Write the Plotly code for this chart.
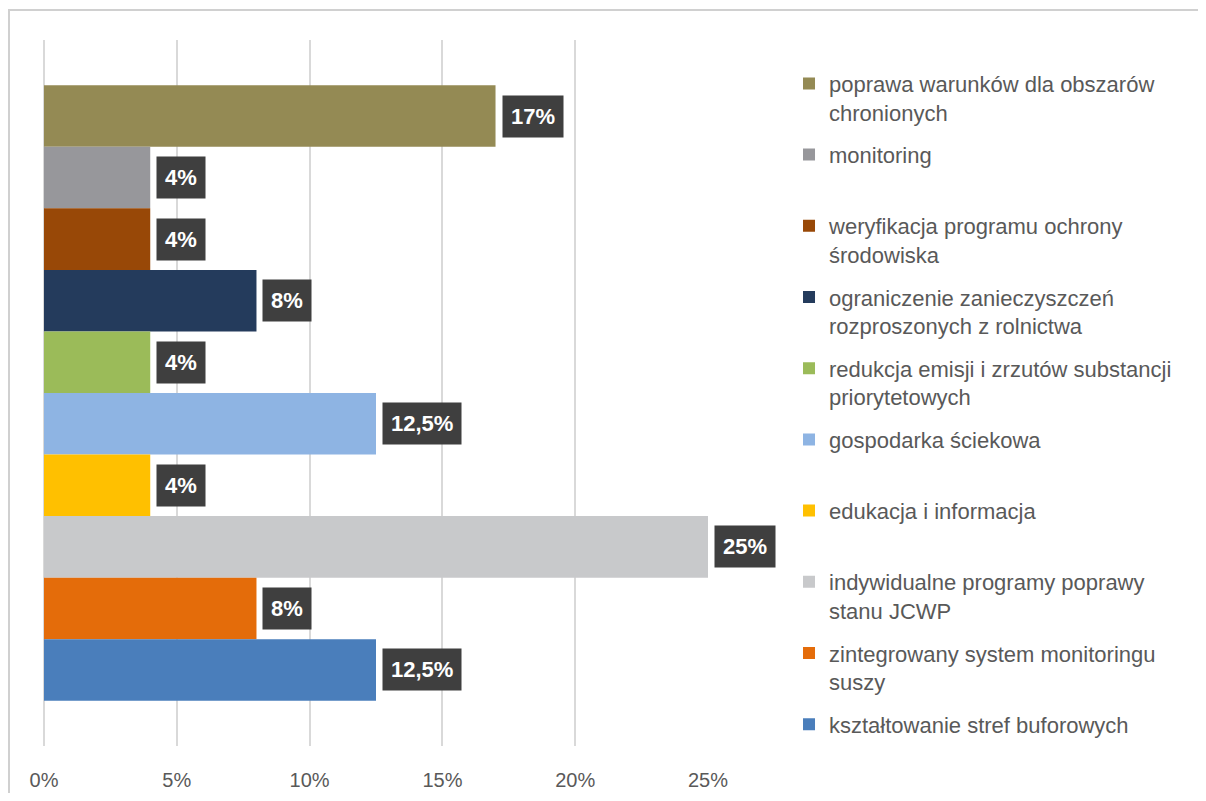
import plotly.graph_objects as go

# series, bottom to top (as drawn)
categories = [
    "kształtowanie stref buforowych",
    "zintegrowany system monitoringu<br>suszy",
    "indywidualne programy poprawy<br>stanu JCWP",
    "edukacja i informacja",
    "gospodarka ściekowa",
    "redukcja emisji i zrzutów substancji<br>priorytetowych",
    "ograniczenie zanieczyszczeń<br>rozproszonych z rolnictwa",
    "weryfikacja programu ochrony<br>środowiska",
    "monitoring",
    "poprawa warunków dla obszarów<br>chronionych",
]
values = [12.5, 8, 25, 4, 12.5, 4, 8, 4, 4, 17]
colors = ["#4a7ebb", "#e46c0a", "#c8c9cb", "#ffc000", "#8eb4e3",
          "#9bbb59", "#243b5c", "#984807", "#97979b", "#948a54"]

fig = go.Figure()
# add from the top so the legend lists the top bar first
for i in reversed(range(len(values))):
    name, v, c = categories[i], values[i], colors[i]
    label = name if "<br>" in name else name + "<br> "
    fig.add_trace(go.Bar(
        x=[v], y=[i], orientation="h", width=1, name=label,
        marker=dict(color=c, line=dict(width=0)),
        legendgroup=str(i), hoverinfo="x+name",
    ))
    fig.add_annotation(
        x=v, y=i, xref="x", yref="y", xanchor="left", yanchor="middle",
        xshift=6, showarrow=False,
        text="<b>" + f"{v:g}".replace(".", ",") + "%</b>",
        font=dict(color="white", size=22, family="Liberation Sans"),
        bgcolor="#3f3f3f", borderpad=8,
    )

# outer chart border (only top and left edges fall inside the window)
fig.add_shape(type="rect", xref="paper", yref="paper",
              x0=-0.0527, x1=2.0, y0=-0.3, y1=1.0425,
              line=dict(color="#d0d0d0", width=2), layer="below")

# page body has an 8px margin, so the figure is 16px smaller than the window
fig.update_layout(
    width=1190, height=785,
    margin=dict(l=36, r=490, t=32, b=47),
    paper_bgcolor="white", plot_bgcolor="white",
    barmode="overlay", showlegend=True,
    font=dict(family="Liberation Sans", color="#595959", size=20),
    legend=dict(
        x=1.122, xanchor="left", y=0.968, yanchor="top",
        traceorder="grouped", valign="top", tracegroupgap=11,
        maxheight=1000,
        font=dict(size=22, color="#595959"), bgcolor="rgba(0,0,0,0)",
    ),
    xaxis=dict(
        range=[0, 25], dtick=5, ticksuffix="%", showgrid=True,
        gridcolor="#d9d9d9", gridwidth=1.5, zeroline=True,
        zerolinecolor="#d9d9d9", zerolinewidth=1.5, showline=False,
        ticks="", ticklabelstandoff=20, automargin=False,
        tickfont=dict(size=20, color="#595959"),
    ),
    yaxis=dict(range=[-1.235, 10.235], showticklabels=False, showgrid=False,
               zeroline=False, showline=False, ticks="", automargin=False),
)

fig.write_html("out.html")
